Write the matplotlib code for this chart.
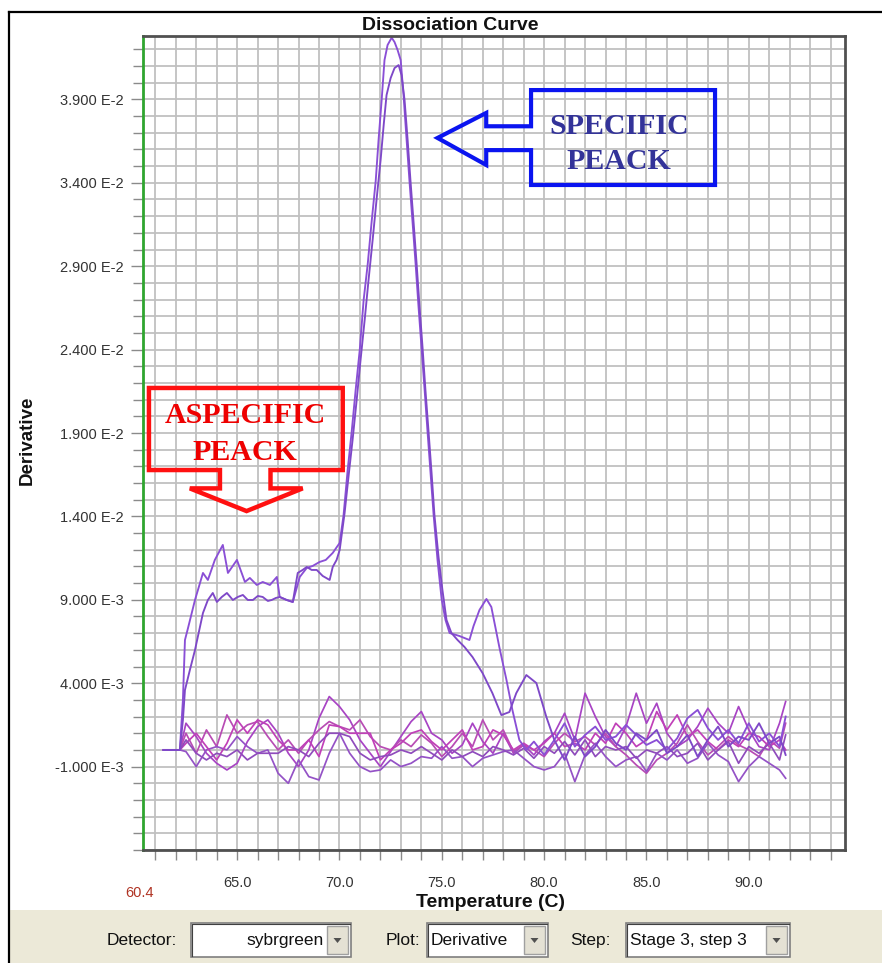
import matplotlib.pyplot as plt
import numpy as np
from matplotlib.lines import Line2D
from matplotlib.patches import Polygon, Rectangle

plt.rcParams['font.family'] = ['Liberation Sans', 'DejaVu Sans']

FIG_W, FIG_H = 882, 963

# Derivative values are stored in units of 1E-3
GRID_T = [61.4, 62.2, 62.5, 63.0, 63.5, 64.0, 64.5, 65.0, 65.5, 66.0,
          66.5, 67.0, 67.5, 68.0, 68.5, 69.0, 69.5, 70.0, 70.5, 71.0,
          71.5, 72.0, 72.5, 73.0, 73.5, 74.0, 74.5, 75.0, 75.5, 76.0,
          76.5, 77.0, 77.5, 78.0, 78.5, 79.0, 79.5, 80.0, 80.5, 81.0,
          81.5, 82.0, 82.5, 83.0, 83.5, 84.0, 84.5, 85.0, 85.5, 86.0,
          86.5, 87.0, 87.5, 88.0, 88.5, 89.0, 89.5, 90.0, 90.5, 91.0,
          91.5, 91.8]

NEG_1 = [0, 0, 1.6, 0.8, -0.2, -0.8, -1.2, -0.8, 0.5, 1.4,
         1.8, 1.0, -0.2, -1.0, 0.0, 1.9, 3.2, 2.6, 1.8, 0.6,
         -0.2, -1.0, -0.1, 0.8, 1.7, 2.3, 1.0, 0.6, -0.2, 0.3,
         1.6, 0.5, -0.2, 1.0, -0.2, 0.3, -0.3, 0.5, 1.0, 2.2,
         0.6, 3.4, 2.0, 0.8, 0.2, 1.4, 3.4, 1.6, 2.8, 1.0,
         0.2, 0.6, 1.4, 2.5, 1.6, 1.0, 2.6, 1.2, 0.2, 0.0,
         1.6, 2.9]
NEG_2 = [0, 0, 1.0, -0.2, 1.2, 0.2, 2.1, 1.0, 1.5, 1.7,
         0.8, 0.0, 0.6, -0.2, 0.6, 1.2, 1.7, 1.4, 1.2, 1.8,
         0.8, 0.2, 0.0, 0.6, 0.2, 0.9, 0.4, -0.4, 0.2, 1.0,
         0.2, 1.8, 0.6, 1.2, -0.1, 0.3, 0.0, -0.4, 0.4, 1.0,
         0.5, 0.8, 0.3, 1.0, 0.2, -0.3, -0.9, -1.4, -0.6, -0.2,
         0.4, 1.5, 0.5, -0.3, 0.2, 0.8, 0.3, 0.0, -0.4, 0.6,
         0.1, 1.6]
NEG_3 = [0, 0, -0.1, -1.0, 0.0, 0.2, 0.0, 0.8, 0.2, -0.2,
         0.0, -1.4, -2.0, -0.6, -1.6, -1.8, -0.2, 1.0, -0.2, -1.0,
         -1.3, -1.2, -0.6, -1.0, -0.8, -0.4, -0.5, 0.2, -0.5, -0.4,
         -1.0, -0.5, -0.3, -0.1, 0.0, -0.5, -1.0, -1.2, -1.0, -0.2,
         -1.9, -0.3, 0.4, -0.4, -1.0, -0.6, -0.4, -1.3, -0.2, -0.6,
         0.0, -0.8, -0.5, 0.4, -0.3, -0.7, -1.9, -1.0, -0.4, -0.8,
         -1.2, -1.7]
NEG_4 = [0, 0, 0.4, 1.0, 0.2, -0.6, 0.4, 1.8, 1.0, 1.8,
         1.5, 0.6, 0.0, 0.0, 0.6, -0.4, 1.5, 1.4, 1.0, 1.0,
         1.0, -0.6, 0.0, 0.4, 1.0, 1.2, 0.5, 0.0, 0.6, 1.2,
         0.0, 0.2, 1.2, 0.9, 0.0, 0.4, 0.0, 0.4, 1.0, 0.2,
         0.4, 0.0, 1.0, 0.4, 1.6, 1.0, 0.2, 0.6, 2.3, 1.2,
         2.1, 0.8, 1.2, 0.5, 0.0, 0.6, 0.2, 1.0, 0.8, 0.2,
         0.6, 0.0]
NEG_5 = [0, 0, 0.6, -0.2, -0.6, -0.2, -0.4, 0.0, -0.6, -0.2,
         -0.2, -0.2, 0.2, 0.0, -0.4, 0.4, 1.0, 1.0, 0.8, -0.2,
         -0.6, -0.4, -0.3, 0.0, -0.2, 0.2, -0.2, -0.6, 0.0, -0.4,
         -0.1, -0.4, 0.2, 0.0, -0.3, 0.1, -0.5, 0.2, -0.2, 0.5,
         -0.3, 0.6, -0.4, 0.2, 0.0, 0.2, -0.5, 0.0, -0.2, 0.2,
         -0.4, -0.2, 0.4, -0.6, 0.0, 0.5, -0.8, 0.2, -0.2, 0.4,
         -0.6, 0.9]

# Positive samples (specific product + primer-dimer shoulder)
SAMPLE_A_T = [61.4, 62.2, 62.35, 62.45, 62.6, 62.94, 63.33, 63.57, 63.91, 64.3,
              64.55, 64.99, 65.38, 65.62, 65.96, 66.25, 66.6, 66.94, 67.08, 67.42,
              67.72, 68.06, 68.4, 68.69, 69.03, 69.33, 69.67, 70.01, 70.2, 70.4,
              70.6, 70.79, 70.99, 71.18, 71.38, 71.57, 71.77, 71.91, 72.06, 72.2,
              72.35, 72.55, 72.69, 72.84, 72.99, 73.13, 73.28, 73.42, 73.57, 73.72,
              73.86, 74.01, 74.16, 74.3, 74.45, 74.6, 74.79, 74.99, 75.18, 75.38,
              75.86, 76.35, 76.55, 76.84, 77.18, 77.42, 77.81, 78.16, 78.45, 78.79,
              79.13, 79.5, 80.0, 80.5, 81.0, 81.5, 82.0, 82.5, 83.0, 83.5,
              84.0, 84.5, 85.0, 85.5, 86.0, 86.5, 87.0, 87.5, 88.0, 88.5,
              89.0, 89.5, 90.0, 90.5, 91.0, 91.5, 91.8]
SAMPLE_A_D = [0.0, 0.0, 2.99, 6.59, 7.31, 8.99, 10.61, 10.19, 11.39, 12.29,
              10.61, 11.39, 10.07, 10.31, 9.89, 10.07, 9.89, 10.37, 9.17, 8.99,
              8.87, 10.37, 10.91, 11.03, 11.27, 11.39, 11.81, 12.41, 14.08, 16.78,
              19.12, 21.58, 23.98, 26.97, 29.13, 31.65, 34.11, 36.57, 38.96, 41.36,
              42.26, 42.7, 42.44, 41.96, 41.36, 39.26, 36.57, 34.11, 31.65, 29.13,
              26.61, 24.1, 21.58, 19.12, 16.6, 14.08, 11.39, 9.05, 7.79, 7.01,
              6.83, 6.59, 7.43, 8.39, 9.05, 8.57, 6.17, 4.19, 2.39, 0.59,
              0.0, 0.5, -0.3, 0.6, 1.6, 0.2, 0.9, 1.4, 0.6, 0.8,
              1.5, 0.9, 0.3, 0.6, 0.0, 0.7, 1.9, 2.4, 1.3, 0.6,
              1.2, 0.4, 1.6, 0.5, 1.0, 0.2, 2.0]

SAMPLE_B_T = [61.4, 62.2, 62.35, 62.45, 62.69, 62.94, 63.33, 63.57, 63.81, 64.01,
              64.25, 64.5, 64.79, 65.03, 65.28, 65.52, 65.77, 66.01, 66.25, 66.5,
              66.69, 66.89, 67.08, 67.42, 67.72, 67.96, 68.2, 68.4, 68.64, 68.89,
              69.18, 69.52, 69.67, 69.86, 70.01, 70.25, 70.45, 70.64, 70.84, 71.03,
              71.23, 71.42, 71.62, 71.81, 72.01, 72.16, 72.3, 72.5, 72.69, 72.89,
              73.03, 73.18, 73.33, 73.47, 73.62, 73.77, 73.91, 74.06, 74.2, 74.35,
              74.5, 74.64, 74.84, 75.03, 75.23, 75.47, 75.77, 76.11, 76.5, 76.99,
              77.47, 77.91, 78.3, 78.64, 79.13, 79.62, 80.11, 80.5, 81.0, 81.5,
              82.0, 82.5, 83.0, 83.5, 84.0, 84.5, 85.0, 85.5, 86.0, 86.5,
              87.0, 87.5, 88.0, 88.5, 89.0, 89.5, 90.0, 90.5, 91.0, 91.5,
              91.8]
SAMPLE_B_D = [0.0, 0.0, 1.79, 3.59, 4.79, 5.99, 8.21, 8.99, 9.41, 8.87,
              9.17, 9.41, 8.99, 9.17, 9.29, 8.99, 8.99, 9.23, 9.17, 8.93,
              8.99, 9.11, 9.17, 8.99, 8.87, 10.61, 10.79, 10.97, 10.79, 10.79,
              10.43, 10.19, 10.97, 11.39, 11.99, 14.2, 16.48, 18.58, 20.98, 23.38,
              25.77, 28.17, 30.57, 32.97, 35.37, 37.47, 39.26, 40.28, 40.88, 41.06,
              40.46, 38.96, 36.57, 34.11, 31.65, 29.13, 26.61, 24.1, 21.58, 19.12,
              16.6, 14.08, 11.57, 9.59, 7.79, 7.01, 6.59, 6.17, 5.57, 4.61,
              3.41, 2.09, 2.27, 3.41, 4.49, 4.01, 1.97, 0.59, -0.6, 0.8,
              -0.4, 0.2, 1.2, 0.4, 0.0, 1.0, 0.6, 1.2, -0.2, 0.2,
              0.9, -0.4, 0.6, 1.4, 0.2, 0.8, 0.6, 1.6, 0.4, 0.8,
              -0.3]

NEG_COLORS = ['#a844c4', '#b84cb4', '#9452c6', '#c040b8', '#8f4cbc']
SAMPLE_COLORS = ['#8a4fd6', '#7e48c8']

X_MIN, X_MAX = 60.4, 94.7
Y_MIN, Y_MAX = -0.006, 0.04282


def fx(px):
    return px / FIG_W


def fy(py):
    return 1 - py / FIG_H


def sci_label(v):
    mant, exp = f'{v:.3E}'.split('E')
    return f'{mant} E{int(exp)}'


fig = plt.figure(figsize=(FIG_W / 100, FIG_H / 100), dpi=100)
fig.patch.set_facecolor('white')

ax = fig.add_axes([fx(143), fy(850), fx(845) - fx(143), fy(35.7) - fy(850)])

for vals, color in zip([NEG_1, NEG_2, NEG_3, NEG_4, NEG_5], NEG_COLORS):
    ax.plot(GRID_T, np.array(vals) * 1e-3, color=color, lw=1.25)
ax.plot(SAMPLE_A_T, np.array(SAMPLE_A_D) * 1e-3, color=SAMPLE_COLORS[0], lw=1.35)
ax.plot(SAMPLE_B_T, np.array(SAMPLE_B_D) * 1e-3, color=SAMPLE_COLORS[1], lw=1.35)

ax.set_xlim(X_MIN, X_MAX)
ax.set_ylim(Y_MIN, Y_MAX)

# axis ticks: labelled every 5 units, grid every unit
x_major = np.arange(65, 91, 5)
ax.set_xticks(x_major)
ax.set_xticklabels([f'{v:.1f}' for v in x_major])
ax.set_xticks(np.arange(61, 95), minor=True)
y_major = np.arange(-1, 40, 5) * 1e-3
ax.set_yticks(y_major)
ax.set_yticklabels([sci_label(v) for v in y_major])
ax.set_yticks(np.arange(-6, 43) * 1e-3, minor=True)

ax.grid(True, which='both', color='#c0c0c0', lw=1.3)
ax.set_axisbelow(True)
ax.tick_params(which='both', direction='out', color='#8a8a8a', width=1,
               labelsize=10.5, labelcolor='#333333')
ax.tick_params(axis='y', which='major', length=9, pad=5)
ax.tick_params(axis='y', which='minor', length=7)
ax.tick_params(axis='x', which='major', length=7, pad=12)
ax.tick_params(axis='x', which='minor', length=7)

for side in ['top', 'right', 'bottom']:
    ax.spines[side].set_color('#505050')
    ax.spines[side].set_linewidth(2)
ax.spines['left'].set_color('#2fa52f')
ax.spines['left'].set_linewidth(2)

# callouts
spec_outline = [(79.36, 39.56), (79.36, 37.39), (77.17, 37.39), (77.17, 38.19),
                (74.79, 36.69), (77.17, 35.07), (77.17, 35.96), (79.36, 35.96),
                (79.36, 33.87), (88.35, 33.87), (88.35, 39.56)]
ax.add_patch(Polygon([(t, d * 1e-3) for t, d in spec_outline], closed=True,
                     fill=False, edgecolor='#0a14f0', lw=3, joinstyle='miter'))
for line, d in [('SPECIFIC', 37.35), ('PEACK', 35.25)]:
    ax.text(83.67, d * 1e-3, line, ha='center', va='center',
            family='Liberation Serif', fontweight='bold', fontsize=21.5,
            color='#333399')

aspec_outline = [(60.69, 21.70), (70.16, 21.70), (70.16, 16.78), (66.63, 16.78),
                 (66.63, 15.68), (68.2, 15.68), (65.46, 14.32), (62.69, 15.68),
                 (64.16, 15.68), (64.16, 16.78), (60.69, 16.78)]
ax.add_patch(Polygon([(t, d * 1e-3) for t, d in aspec_outline], closed=True,
                     fill=False, edgecolor='#ff1010', lw=3.2, joinstyle='miter'))
for line, d in [('ASPECIFIC', 20.05), ('PEACK', 17.85)]:
    ax.text(65.38, d * 1e-3, line, ha='center', va='center',
            family='Liberation Serif', fontweight='bold', fontsize=21.5,
            color='#ee0000')

# titles and labels
fig.text(fx(450), fy(25.5), 'Dissociation Curve', ha='center', va='center',
         fontsize=14, fontweight='bold', color='#111111')
fig.text(fx(27), fy(440), 'Derivative', ha='center', va='center', rotation=90,
         fontsize=13.5, fontweight='bold', color='#111111')
fig.text(fx(491), fy(902), 'Temperature (C)', ha='center', va='center',
         fontsize=14, fontweight='bold', color='#111111')
fig.text(fx(139), fy(893), '60.4', ha='center', va='center', fontsize=10.5,
         color='#b03424')

# window frame and control bar
fig.add_artist(Line2D([fx(9), fx(9)], [fy(12), 0], color='black', lw=1.6))
fig.add_artist(Line2D([fx(9), 1], [fy(12), fy(12)], color='black', lw=1.6))
fig.add_artist(Rectangle((fx(10), 0), 1 - fx(10), fy(910), color='#ece9d8',
                         lw=0))


def combo(x0, x1, text, align):
    top, bot = 923, 957
    fig.add_artist(Rectangle((fx(x0), fy(bot)), fx(x1) - fx(x0), fy(top) - fy(bot),
                             facecolor='white', edgecolor='#7f7f7f', lw=1.2))
    fig.add_artist(Line2D([fx(x0 + 1), fx(x0 + 1), fx(x1 - 1)],
                          [fy(bot - 1), fy(top + 1), fy(top + 1)],
                          color='#404040', lw=0.8))
    bx0, bx1 = x1 - 24, x1 - 3
    fig.add_artist(Rectangle((fx(bx0), fy(bot - 3)), fx(bx1) - fx(bx0),
                             fy(top + 3) - fy(bot - 3),
                             facecolor='#e4e1d4', edgecolor='#a0a0a0', lw=1))
    cx, cy = (bx0 + bx1) / 2, (top + bot) / 2
    fig.add_artist(Polygon([(fx(cx - 4), fy(cy - 2)), (fx(cx + 4), fy(cy - 2)),
                            (fx(cx), fy(cy + 3))], closed=True,
                           facecolor='#505050', edgecolor='none'))
    if align == 'right':
        fig.text(fx(bx0 - 3), fy(cy), text, ha='right', va='center',
                 fontsize=12.5, color='#111111')
    else:
        fig.text(fx(x0 + 4), fy(cy), text, ha='left', va='center',
                 fontsize=12.5, color='#111111')


fig.text(fx(177), fy(940), 'Detector:', ha='right', va='center', fontsize=12.5,
         color='#111111')
combo(191, 351, 'sybrgreen', 'right')
fig.text(fx(420), fy(940), 'Plot:', ha='right', va='center', fontsize=12.5,
         color='#111111')
combo(427, 548, 'Derivative', 'left')
fig.text(fx(611), fy(940), 'Step:', ha='right', va='center', fontsize=12.5,
         color='#111111')
combo(626, 790, 'Stage 3, step 3', 'left')

fig.savefig('out.png', dpi=100)
